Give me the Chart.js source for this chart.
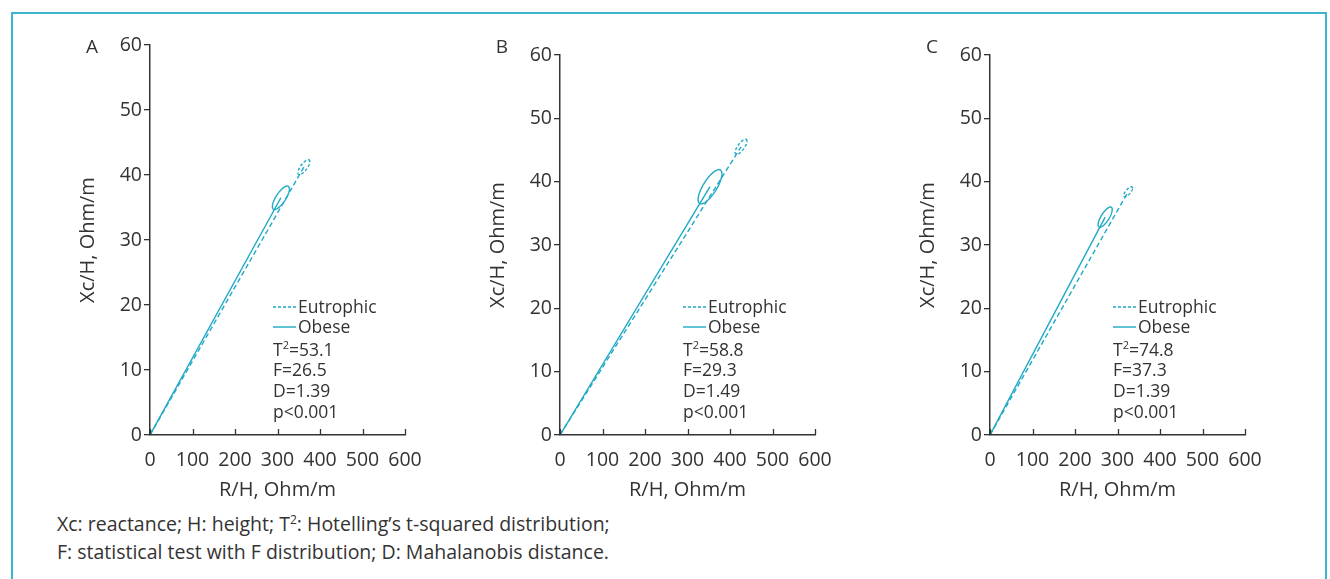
<!DOCTYPE html>
<html lang="en">
<head>
<meta charset="UTF-8">
<script src="https://cdn.jsdelivr.net/npm/chart.js"></script>
<style>
  body { margin: 0; background: #fff; }
  #pagina { position: relative; width: 1330px; height: 579px; overflow: hidden; background: #fff;
            font-family: 'Open Sans', sans-serif; color: #333; }
  #moldura { position: absolute; left: 11px; top: 12px; width: 1312px; height: 620px;
             border: 2px solid #3cb4cc; border-bottom: none; }
  canvas { position: absolute; top: 20px; }
  #legenda { position: absolute; left: 57px; top: 510px; font-size: 19.5px; line-height: 28px; }
  #legenda sup { font-size: 12px; vertical-align: 7px; line-height: 0; }
</style>
</head>
<body>
<div id="pagina">
  <div id="moldura"></div>
  <canvas id="graficoA" width="370" height="490" style="left:60px"></canvas>
  <canvas id="graficoB" width="370" height="490" style="left:470px"></canvas>
  <canvas id="graficoC" width="370" height="490" style="left:900px"></canvas>
  <div id="legenda">
    Xc: reactance; H: height; T<sup>2</sup>: Hotelling’s t-squared distribution;<br>
    F: statistical test with F distribution; D: Mahalanobis distance.
  </div>
</div>

<script>
  // dados
  var paineis = ['A', 'B', 'C'];
  var rObeso = [308, 353, 271];
  var xcObeso = [36.5, 39.2, 34.4];
  var rEutrofico = [362, 426, 325];
  var xcEutrofico = [41.2, 45.5, 38.4];

  // meia largura das elipses (R e Xc) e correlacao
  var dpRObeso = [20, 28, 16.5];
  var dpXcObeso = [1.8, 2.7, 1.6];
  var dpREutrofico = [14, 14, 10.5];
  var dpXcEutrofico = [1.15, 1.2, 0.8];
  var correlacao = [0.75, 0.75, 0.75];

  var valoresT2 = ['53.1', '58.8', '74.8'];
  var valoresF = ['26.5', '29.3', '37.3'];
  var valoresD = ['1.39', '1.49', '1.39'];
  var valoresP = ['p<0.001', 'p<0.001', 'p<0.001'];

  var ticksX = [0, 100, 200, 300, 400, 500, 600];
  var ticksY = [0, 10, 20, 30, 40, 50, 60];

  var cor = '#1fa9c6';
  var corTexto = '#333';
  var fonte = "'Open Sans', sans-serif";

  function elipse(ctx, sx, sy, cx, cy, ax, ay, rho, dash) {
    ctx.save();
    ctx.beginPath();
    for (var k = 0; k <= 90; k++) {
      var t = k / 90 * 2 * Math.PI;
      var vx = cx + ax * Math.cos(t);
      var vy = cy + ay * (rho * Math.cos(t) + Math.sqrt(1 - rho * rho) * Math.sin(t));
      var px = sx.getPixelForValue(vx);
      var py = sy.getPixelForValue(vy);
      if (k == 0) ctx.moveTo(px, py); else ctx.lineTo(px, py);
    }
    ctx.setLineDash(dash);
    ctx.strokeStyle = cor;
    ctx.lineWidth = 1.4;
    ctx.stroke();
    ctx.restore();
  }

  function Gerar(i, topo) {
    var extras = {
      id: 'extras' + i,
      afterDatasetsDraw: function (chart) {
        var ctx = chart.ctx;
        var sx = chart.scales.x, sy = chart.scales.y;
        elipse(ctx, sx, sy, rEutrofico[i], xcEutrofico[i], dpREutrofico[i], dpXcEutrofico[i], correlacao[i], [3, 2]);
        elipse(ctx, sx, sy, rObeso[i], xcObeso[i], dpRObeso[i], dpXcObeso[i], correlacao[i], []);
      },
      afterDraw: function (chart) {
        var ctx = chart.ctx;
        var a = chart.chartArea;
        var L = a.left, B = a.bottom;
        var sx = chart.scales.x;
        ctx.save();
        // marcas do eixo x para dentro
        ctx.strokeStyle = corTexto;
        ctx.lineWidth = 1.3;
        ticksX.forEach(function (v) {
          var px = Math.round(sx.getPixelForValue(v)) + 0.5;
          ctx.beginPath();
          ctx.moveTo(px, B);
          ctx.lineTo(px, B - 6);
          ctx.stroke();
        });

        // letra do painel
        ctx.fillStyle = corTexto;
        ctx.font = '19px ' + fonte;
        ctx.textAlign = 'center';
        ctx.textBaseline = 'middle';
        ctx.fillText(paineis[i], L - 58, 28);

        // legenda
        ctx.textAlign = 'left';
        ctx.textBaseline = 'alphabetic';
        ctx.font = '17.5px ' + fonte;
        ctx.strokeStyle = cor;
        ctx.lineWidth = 1.4;
        ctx.setLineDash([3, 2]);
        ctx.beginPath();
        ctx.moveTo(L + 123, B - 128);
        ctx.lineTo(L + 146, B - 128);
        ctx.stroke();
        ctx.setLineDash([]);
        ctx.beginPath();
        ctx.moveTo(L + 123, B - 108);
        ctx.lineTo(L + 146, B - 108);
        ctx.stroke();
        ctx.fillText('Eutrophic', L + 148, B - 122);
        ctx.fillText('Obese', L + 148, B - 102);

        var x0 = L + 123;
        ctx.fillText('T', x0, B - 79);
        var w = ctx.measureText('T').width;
        ctx.font = '11px ' + fonte;
        ctx.fillText('2', x0 + w, B - 86);
        var w2 = ctx.measureText('2').width;
        ctx.font = '17.5px ' + fonte;
        ctx.fillText('=' + valoresT2[i], x0 + w + w2, B - 79);
        ctx.fillText('F=' + valoresF[i], x0, B - 59);
        ctx.fillText('D=' + valoresD[i], x0, B - 38);
        ctx.fillText(valoresP[i], x0, B - 17);
        ctx.restore();
      }
    };

    var ctx = document.getElementById('grafico' + paineis[i]).getContext('2d');
    new Chart(ctx, {
      type: 'scatter',
      data: {
        datasets: [{
          label: 'Eutrophic',
          data: [{ x: 0, y: 0 }, { x: rEutrofico[i], y: xcEutrofico[i] }],
          showLine: true,
          borderColor: cor,
          borderWidth: 1.4,
          borderDash: [5, 3],
          pointRadius: 0
        }, {
          label: 'Obese',
          data: [{ x: 0, y: 0 }, { x: rObeso[i], y: xcObeso[i] }],
          showLine: true,
          borderColor: cor,
          borderWidth: 1.4,
          pointRadius: 0
        }]
      },
      options: {
        responsive: false,
        animation: false,
        layout: { padding: { top: topo, right: 25, bottom: 8, left: 0 } },
        plugins: { legend: { display: false }, tooltip: { enabled: false } },
        scales: {
          x: {
            type: 'linear', min: 0, max: 600,
            afterBuildTicks: function (s) { s.ticks = ticksX.map(function (v) { return { value: v }; }); },
            afterFit: function (s) { s.height = 67; s.paddingLeft = 0; s.paddingRight = 0; },
            grid: { display: false, drawTicks: false },
            border: { display: true, color: corTexto, width: 1.5 },
            ticks: { color: corTexto, font: { size: 19.5, family: fonte }, padding: 14, maxRotation: 0 },
            title: { display: true, text: 'R/H, Ohm/m', color: corTexto, font: { size: 20, family: fonte }, padding: { top: 0, bottom: 0 } }
          },
          y: {
            type: 'linear', min: 0, max: 60,
            afterBuildTicks: function (s) { s.ticks = ticksY.map(function (v) { return { value: v }; }); },
            afterFit: function (s) { s.width = 90; s.paddingTop = 0; s.paddingBottom = 0; },
            grid: { drawOnChartArea: false, drawTicks: true, tickLength: 6, color: corTexto, lineWidth: 1.3 },
            border: { display: true, color: corTexto, width: 1.5 },
            ticks: { color: corTexto, font: { size: 19.5, family: fonte }, padding: 2 },
            title: { display: true, text: 'Xc/H, Ohm/m', color: corTexto, font: { size: 20, family: fonte }, padding: { top: 16, bottom: 0 } }
          }
        }
      },
      plugins: [extras]
    });
  }

  Gerar(0, 25);
  Gerar(1, 35);
  Gerar(2, 35);
</script>
</body>
</html>
